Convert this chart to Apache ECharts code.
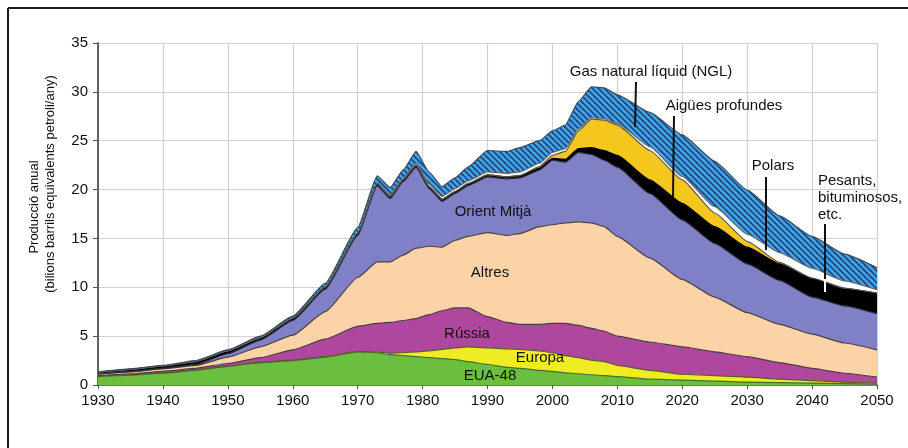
<!DOCTYPE html>
<html>
<head>
<meta charset="utf-8">
<script src="https://cdn.jsdelivr.net/npm/echarts@6/dist/echarts.min.js"></script>
<style>
html,body{margin:0;padding:0;background:#fff;}
#chart{width:908px;height:448px;}
</style>
</head>
<body>
<div id="chart"></div>
<script>
// ---- data (billions of barrels per year, layer thickness) ----
const years = [1930,1935,1940,1945,1950,1955,1960,1965,1970,1973,1975,1977,1979,1981,1983,1985,1987,1990,1993,1995,1998,2000,2002,2004,2006,2008,2010,2015,2020,2025,2030,2035,2040,2045,2050];
const eua48 = [0.85,1.0,1.2,1.5,1.9,2.3,2.5,2.85,3.4,3.3,3.1,3.0,2.9,2.8,2.7,2.6,2.4,2.1,1.8,1.7,1.5,1.4,1.25,1.15,1.05,0.95,0.85,0.6,0.5,0.4,0.3,0.25,0.2,0.15,0.1];
const europa = [0.05,0.05,0.05,0.05,0.05,0.05,0.05,0.05,0.05,0.1,0.15,0.3,0.5,0.7,0.95,1.2,1.5,1.7,1.9,1.95,2.0,1.9,1.75,1.65,1.5,1.45,1.15,0.9,0.6,0.55,0.5,0.35,0.25,0.15,0.1];
const russia = [0.05,0.1,0.15,0.15,0.25,0.45,1.05,1.8,2.55,2.9,3.15,3.3,3.4,3.7,3.95,4.1,4.0,3.2,2.7,2.55,2.7,3.0,3.3,3.3,3.25,3.1,3.0,2.9,2.8,2.45,2.1,1.7,1.25,0.9,0.6];
const altres = [0.15,0.2,0.25,0.3,0.65,1.1,1.5,2.8,5.0,6.3,6.2,6.7,7.2,7.0,6.5,6.9,7.3,8.6,8.9,9.3,10.0,10.1,10.3,10.6,10.8,10.7,10.2,8.6,6.9,5.6,4.5,3.9,3.5,3.1,2.8];
const orientMitja = [0.05,0.05,0.05,0.1,0.35,0.7,1.5,2.3,4.3,7.8,6.5,7.5,8.3,5.9,4.7,4.8,5.2,5.7,5.8,5.7,5.8,6.6,6.2,7.1,7.0,6.8,7.1,6.6,6.1,5.5,5.0,4.5,3.8,3.8,3.7];
const pesants = [0.15,0.2,0.25,0.3,0.3,0.25,0.25,0.25,0.25,0.2,0.2,0.2,0.2,0.2,0.2,0.2,0.2,0.2,0.2,0.2,0.2,0.2,0.3,0.4,0.7,1.0,1.2,1.4,1.7,1.7,1.7,1.7,1.9,1.8,2.1];
const aiguesProfundes = [0,0,0,0,0,0,0,0,0,0,0,0,0,0,0,0,0,0,0,0.05,0.15,0.3,0.8,1.8,2.9,3.1,3.1,3.0,2.4,1.4,0.6,0.15,0.05,0,0];
const polars = [0,0,0,0,0,0,0,0,0.05,0.1,0.1,0.15,0.2,0.25,0.3,0.3,0.3,0.3,0.35,0.35,0.35,0.3,0.3,0.2,0.15,0.15,0.15,0.4,0.35,0.65,0.75,1.0,1.0,0.75,0.35];
const ngl = [0.05,0.05,0.05,0.1,0.1,0.15,0.2,0.35,0.5,0.7,0.8,0.85,1.2,1.25,1.0,1.1,1.4,2.2,2.25,2.5,2.3,2.2,2.4,2.8,3.15,3.15,2.95,3.5,4.25,4.65,4.5,3.75,3.25,2.75,2.25];
const yTicks = [0,5,10,15,20,25,30,35];
const xTicks = [1930,1940,1950,1960,1970,1980,1990,2000,2010,2020,2030,2040,2050];

// ---- stripe pattern for NGL ----
function stripes(){
  const c = document.createElement('canvas');
  c.width = 6; c.height = 6;
  const g = c.getContext('2d');
  g.fillStyle = '#45a6e6';
  g.fillRect(0,0,6,6);
  g.strokeStyle = '#1d4a86';
  g.lineWidth = 1.8;
  for (let k=-2;k<=2;k++){
    g.beginPath();
    g.moveTo(k*6-1, -1);
    g.lineTo(k*6+7, 7);
    g.stroke();
  }
  return c;
}

const FONT = '"Liberation Sans", Arial, Helvetica, sans-serif';
// value first, year second; encode maps year to x so the stack runs on the value
const pairs = arr => years.map((y,i)=>[arr[i], y]);

function layer(name, arr, color, lineColor){
  return {
    name, type:'line', stack:'oil', data:pairs(arr), symbol:'none',
    dimensions:['value','year'], encode:{x:1, y:0},
    smooth:0.15, smoothMonotone:'x',
    lineStyle:{color:lineColor||'#3c3c3c', width:1.2},
    areaStyle:{color, opacity:1},
    itemStyle:{color: typeof color==='string'?color:'#45a6e6'},
    emphasis:{disabled:true}, animation:false
  };
}

function label(text, x, y, align){
  return {type:'text', x, y, z:100,
    style:{text, align:align||'center', verticalAlign:'middle', font:'15px '+FONT, fill:'#111'}};
}
function pointer(x1,y1,x2,y2,color){
  return {type:'line', z:100, shape:{x1,y1,x2,y2}, style:{stroke:color||'#111', lineWidth:2}};
}

const chart = echarts.init(document.getElementById('chart'), null, {renderer:'canvas'});
chart.setOption({
  animation:false,
  backgroundColor:'#fff',
  grid:{left:98, right:31, top:43, bottom:63},
  xAxis:{
    type:'value', min:1930, max:2050, interval:10,
    axisLine:{lineStyle:{color:'#555', width:1.5}},
    axisTick:{show:true, length:4, lineStyle:{color:'#555'}},
    axisLabel:{color:'#111', fontSize:15, fontFamily:FONT, margin:8,
      formatter:v=> xTicks.includes(v)? String(v):''},
    splitLine:{show:true, lineStyle:{color:'#d6cfcf', width:1.2}}
  },
  yAxis:{
    type:'value', min:0, max:35, interval:5,
    axisLine:{show:true, lineStyle:{color:'#555', width:1.8}},
    axisTick:{show:true, length:5, lineStyle:{color:'#555'}},
    axisLabel:{color:'#111', fontSize:15, fontFamily:FONT, margin:10,
      formatter:v=> yTicks.includes(v)? String(v):''},
    splitLine:{show:true, lineStyle:{color:'#d6cfcf', width:1.2}}
  },
  series:[
    layer('EUA-48', eua48, '#6cbf3e', '#3f6f2a'),
    layer('Europa', europa, '#f0ec24', '#5a5a2a'),
    layer('Rússia', russia, '#b0479f', '#4a3a4a'),
    layer('Altres', altres, '#fcd3a6', '#4a4040'),
    layer('Orient Mitjà', orientMitja, '#8080c6', '#2a2a3a'),
    layer('Pesants, bituminosos, etc.', pesants, '#000000', '#000000'),
    layer('Aigües profundes', aiguesProfundes, '#f5c71e', '#555'),
    layer('Polars', polars, '#ffffff', '#666'),
    layer('Gas natural líquid (NGL)', ngl, {image:stripes(), repeat:'repeat'}, '#3a4a5a')
  ],
  graphic:[
    {type:'line', shape:{x1:8,y1:8,x2:908,y2:8}, style:{stroke:'#1a1a1a', lineWidth:2}},
    {type:'line', shape:{x1:8,y1:8,x2:8,y2:448}, style:{stroke:'#1a1a1a', lineWidth:2}},
    {type:'text', x:34, y:207, rotation:Math.PI/2,
      style:{text:'Producció anual', align:'center', verticalAlign:'middle', font:'13px '+FONT, fill:'#111'}},
    {type:'text', x:50, y:184, rotation:Math.PI/2,
      style:{text:'(bilions barrils equivalents petroli/any)', align:'center', verticalAlign:'middle', font:'13px '+FONT, fill:'#111'}},
    label('Gas natural líquid (NGL)', 651, 72),
    pointer(636,82,635,127),
    label('Aigües profundes', 724, 106),
    pointer(674,116,673,197),
    label('Polars', 773, 166),
    pointer(766,177,766,250),
    label('Pesants,', 818, 181, 'left'),
    label('bituminosos,', 818, 198, 'left'),
    label('etc.', 818, 215, 'left'),
    pointer(825,224,825,279),
    pointer(825,279,825,292,'#fff'),
    label('Orient Mitjà', 493, 212),
    label('Altres', 490, 273),
    label('Rússia', 467, 334),
    label('Europa', 540, 358),
    label('EUA-48', 490, 376)
  ]
});
</script>
</body>
</html>
